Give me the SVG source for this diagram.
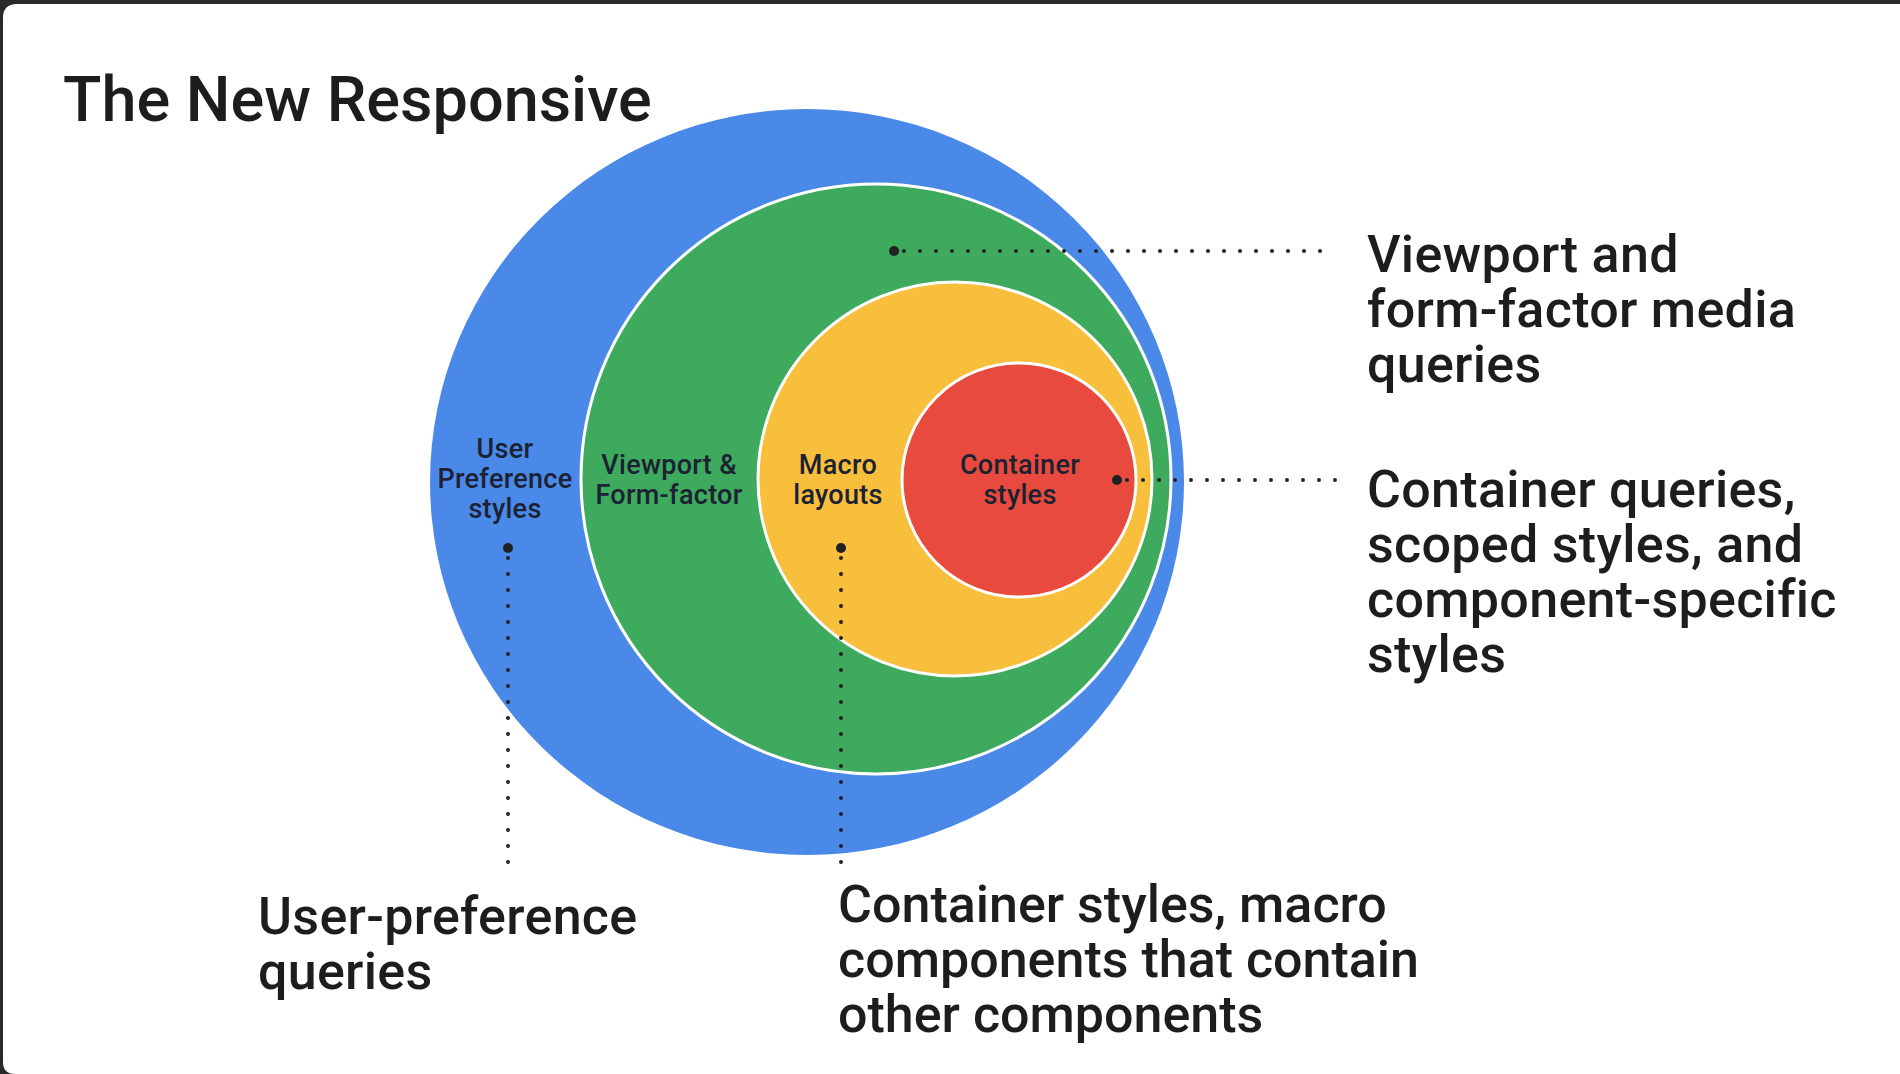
<svg xmlns="http://www.w3.org/2000/svg" width="1900" height="1074" viewBox="0 0 1900 1074">
<style>
  .big { font-family: Roboto, "Liberation Sans", sans-serif; font-weight: 500; fill: #1d1d1f; }
  .title { font-size: 63px; }
  .desc { font-size: 52px; letter-spacing: 0.3px; }
  .tight { letter-spacing: 0px; }
  .lbl { font-family: Roboto, "Liberation Sans", sans-serif; font-weight: 500; font-size: 27px; letter-spacing: 0.3px; fill: #1c2233; text-anchor: middle; }
  .ring { stroke: #ffffff; stroke-width: 3; }
  .dotline { stroke: #202124; stroke-width: 4; stroke-linecap: round; stroke-dasharray: 0 16; fill: none; }
  .pin { fill: #202124; }
</style>
<rect x="0" y="0" width="1900" height="1074" fill="#2a2a2a"/>
<path d="M3 18 Q3 4 17 4 H1900 V1074 H15 Q3 1074 3 1062 Z" fill="#ffffff"/>
<text class="big title" x="63" y="121">The New Responsive</text>
<g id="user-preference">
  <ellipse cx="807" cy="482" rx="377" ry="373" fill="#4A89E8"/>
  <text class="lbl"><tspan x="505" y="458">User</tspan><tspan x="505" y="488">Preference</tspan><tspan x="505" y="518">styles</tspan></text>
</g>
<g id="viewport">
  <circle class="ring" cx="876" cy="479" r="295" fill="#3DAA5D"/>
  <text class="lbl"><tspan x="669" y="474">Viewport &amp;</tspan><tspan x="669" y="504">Form-factor</tspan></text>
</g>
<g id="macro">
  <circle class="ring" cx="955" cy="479" r="197" fill="#F8BF3D"/>
  <text class="lbl"><tspan x="838" y="474">Macro</tspan><tspan x="838" y="504">layouts</tspan></text>
</g>
<g id="container">
  <circle class="ring" cx="1019" cy="480" r="117" fill="#E84B3D"/>
  <text class="lbl"><tspan x="1020" y="474">Container</tspan><tspan x="1020" y="504">styles</tspan></text>
</g>
<g id="connectors">
  <circle class="pin" cx="894" cy="251" r="5"/>
  <line class="dotline" x1="904" y1="251" x2="1322" y2="251"/>
  <circle class="pin" cx="1117" cy="480" r="5"/>
  <line class="dotline" x1="1127" y1="480" x2="1351" y2="480"/>
  <circle class="pin" cx="508" cy="548" r="5"/>
  <line class="dotline" x1="508" y1="558" x2="508" y2="866"/>
  <circle class="pin" cx="841" cy="548" r="5"/>
  <line class="dotline" x1="841" y1="558" x2="841" y2="866"/>
</g>
<g id="desc-viewport">
  <text class="big desc"><tspan x="1367" y="272">Viewport and</tspan><tspan x="1367" y="327">form-factor media</tspan><tspan x="1367" y="382">queries</tspan></text>
</g>
<g id="desc-container">
  <text class="big desc"><tspan x="1367" y="507">Container queries,</tspan><tspan x="1367" y="562">scoped styles, and</tspan><tspan x="1367" y="617">component-specific</tspan><tspan x="1367" y="672">styles</tspan></text>
</g>
<g id="desc-user">
  <text class="big desc"><tspan x="258" y="934">User-preference</tspan><tspan x="258" y="989">queries</tspan></text>
</g>
<g id="desc-macro">
  <text class="big desc tight"><tspan x="838" y="922">Container styles, macro</tspan><tspan x="838" y="977">components that contain</tspan><tspan x="838" y="1032">other components</tspan></text>
</g>
</svg>
